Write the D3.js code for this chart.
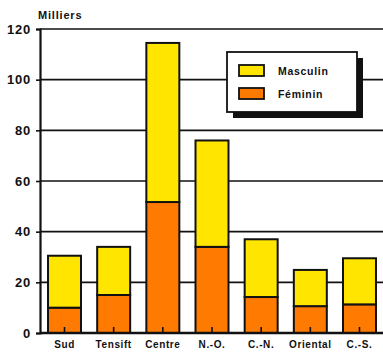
<!DOCTYPE html>
<html><head><meta charset="utf-8">
<script src="https://cdn.jsdelivr.net/npm/d3@7"></script>
<style>body{margin:0;background:#fff}svg{display:block}text{font-family:"Liberation Sans",Arial,sans-serif;font-weight:bold;fill:#111}</style>
</head><body><svg id="c" width="383" height="355"></svg>
<script>
const categories = ["Sud","Tensift","Centre","N.-O.","C.-N.","Oriental","C.-S."];
const feminin = [10, 15, 51.7, 34, 14.2, 10.6, 11.3];
const masculin = [20.5, 19, 62.8, 42, 22.8, 14.3, 18.2];
const yTicks = [0,20,40,60,80,100,120];
const seriesNames = ["Masculin","Féminin"];
const colors = {"Masculin":"#FFE500","Féminin":"#FF7A00"};

const svg = d3.select("#c");
const x = d3.scaleBand().domain(categories).range([40, 384]).paddingInner(0.329).paddingOuter(0.163);
const y = d3.scaleLinear().domain([0,120]).range([333, 29]);

// gridlines
svg.append("g").selectAll("line").data(yTicks.filter(d=>d>0)).join("line")
  .attr("x1",40).attr("x2",383).attr("y1",d=>y(d)).attr("y2",d=>y(d))
  .attr("stroke","#111").attr("stroke-width",1.6);

// y axis
const ya = svg.append("g").attr("transform","translate(40,0)").call(d3.axisLeft(y).tickValues(yTicks).tickSize(4).tickPadding(5));
ya.select(".domain").attr("stroke","#111").attr("stroke-width",2.2);
ya.selectAll("line").attr("stroke","#111").attr("stroke-width",1.6);
ya.selectAll("text").style("font-size","13px").style("font-family","'Liberation Sans',Arial,sans-serif").style("font-weight","bold").attr("fill","#111").style("letter-spacing","0.8px");

svg.append("text").attr("x",38).attr("y",19).style("font-size","11px").style("letter-spacing","0.8px").text("Milliers");

const data = categories.map((c,i)=>({c, f:feminin[i], m:masculin[i]}));
const g = svg.append("g");
g.selectAll("rect.f").data(data).join("rect").attr("class","f")
  .attr("x",d=>x(d.c)).attr("width",x.bandwidth())
  .attr("y",d=>y(d.f)).attr("height",d=>y(0)-y(d.f))
  .attr("fill",colors["Féminin"]).attr("stroke","#111").attr("stroke-width",2);
g.selectAll("rect.m").data(data).join("rect").attr("class","m")
  .attr("x",d=>x(d.c)).attr("width",x.bandwidth())
  .attr("y",d=>y(d.f+d.m)).attr("height",d=>y(d.f)-y(d.f+d.m))
  .attr("fill",colors["Masculin"]).attr("stroke","#111").attr("stroke-width",2);

// x axis
const xa = svg.append("g").attr("transform","translate(0,333)").call(d3.axisBottom(x).tickSize(-6).tickPadding(8));
xa.select(".domain").attr("d","M40,0H383").attr("stroke","#111").attr("stroke-width",2.4);
xa.selectAll("line").attr("stroke","#111").attr("stroke-width",1.6);
xa.selectAll("text").style("font-size","10px").style("font-family","'Liberation Sans',Arial,sans-serif").style("font-weight","bold").attr("fill","#111").style("letter-spacing","0.6px");

// legend
const lg = svg.append("g");
lg.append("rect").attr("x",233).attr("y",58).attr("width",130).attr("height",60).attr("fill","#111");
lg.append("rect").attr("x",227).attr("y",52).attr("width",130).attr("height",60).attr("fill","#fff").attr("stroke","#111").attr("stroke-width",1.8);
seriesNames.forEach((s,i)=>{
  lg.append("rect").attr("x",239).attr("y",65+i*23).attr("width",25).attr("height",11).attr("fill",colors[s]).attr("stroke","#111").attr("stroke-width",1.8);
  lg.append("text").attr("x",278).attr("y",75+i*23).style("font-size","10.5px").style("letter-spacing","0.7px").text(s);
});
</script></body></html>
